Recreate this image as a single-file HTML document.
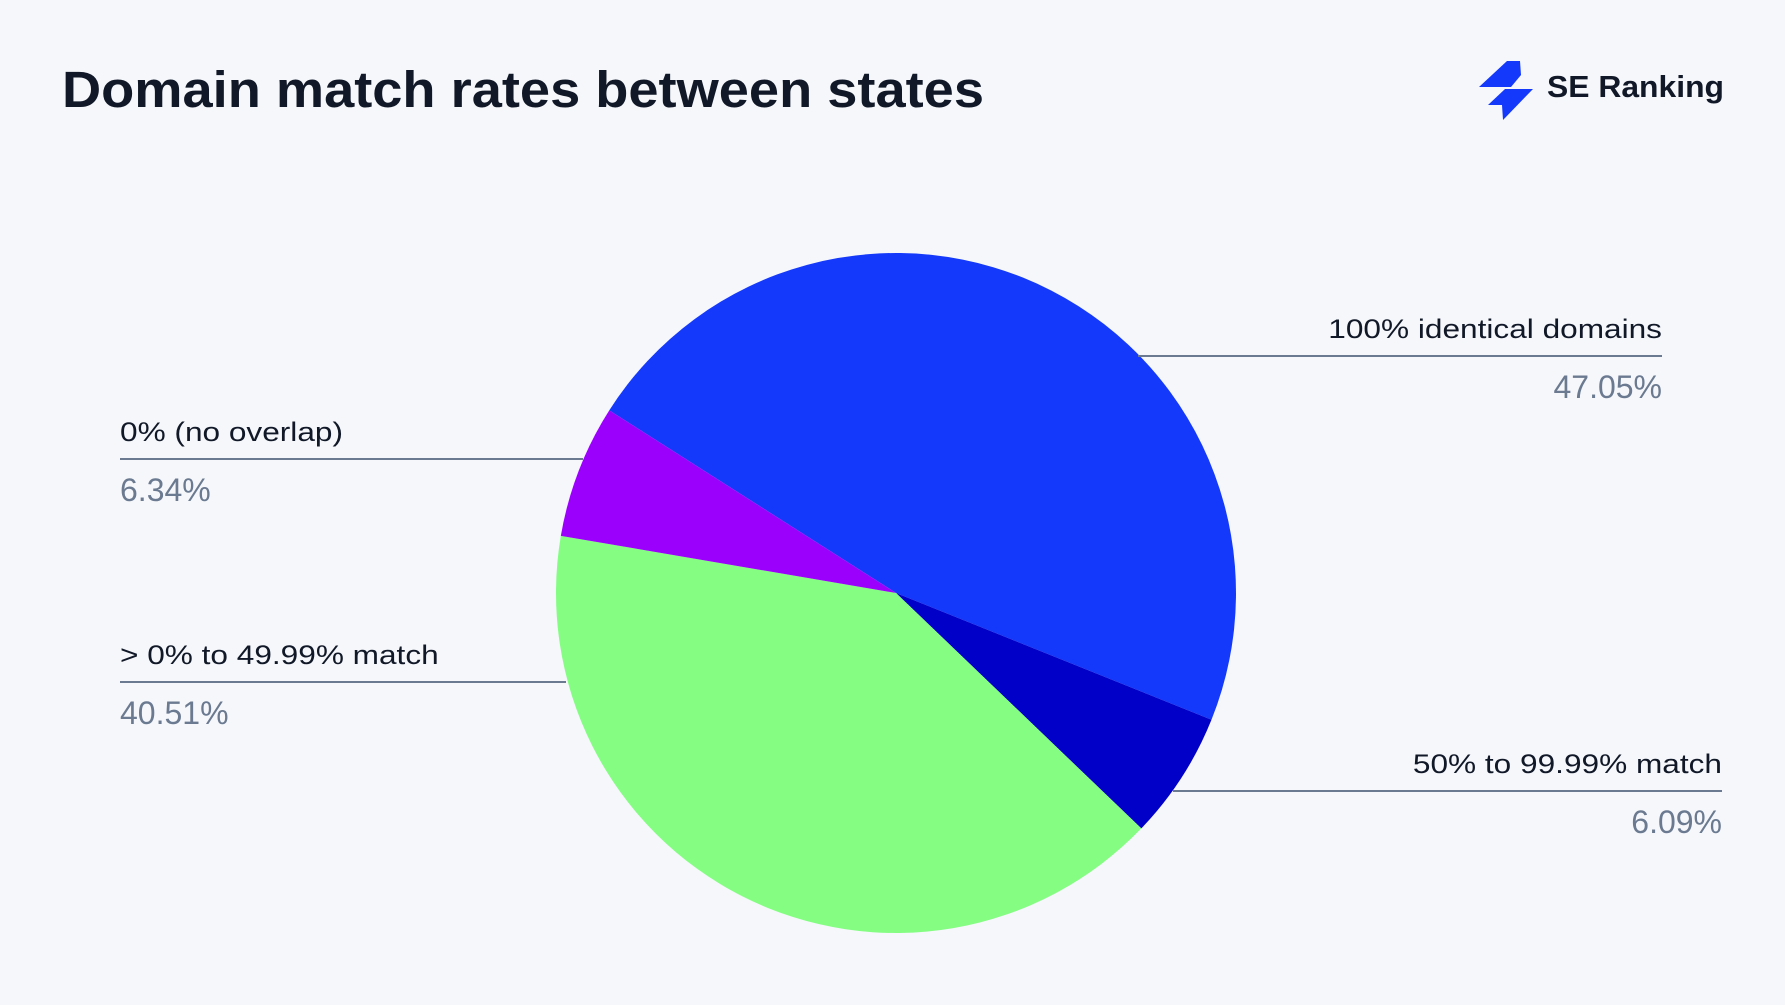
<!DOCTYPE html>
<html><head><meta charset="utf-8"><style>
body{margin:0;background:#f5f7fb;font-family:"Liberation Sans",sans-serif;}
#wrap{position:relative;width:1785px;height:1005px;overflow:hidden;background:#f5f7fb;}
</style></head><body>
<div id="wrap">
<svg id="svg" width="1785" height="1005">
<text x="62" y="107" font-size="51" font-weight="bold" fill="#111827" textLength="922" lengthAdjust="spacingAndGlyphs">Domain match rates between states</text>
<g>
<polygon points="1479,87 1507,61 1520,61 1521,75 1511,87" fill="#1439fa"/>
<polygon points="1505,89 1533,89 1503,120 1502,105 1488,105" fill="#1439fa"/>
<text x="1547" y="97" font-size="31" font-weight="bold" fill="#111827" textLength="177" lengthAdjust="spacingAndGlyphs">SE Ranking</text>
</g>
<g id="slices"></g>
<g id="labels"></g>
</svg>
</div>
<script>
const categories=["100% identical domains","50% to 99.99% match","> 0% to 49.99% match","0% (no overlap)"];
const values=[47.05,6.09,40.51,6.34];
const valueLabels=["47.05%","6.09%","40.51%","6.34%"];
const colors=["#1439fa","#0000c8","#85fd83","#9b00fc"];
const ns="http://www.w3.org/2000/svg";
const cx=896,cy=593,r=340,startDeg=-57.5;
const total=values.reduce((a,b)=>a+b,0);
function pt(deg,rad){const a=deg*Math.PI/180;return [cx+rad*Math.sin(a),cy-rad*Math.cos(a)];}
const g=document.getElementById('slices');
let ang=startDeg;
values.forEach((v,i)=>{
 const sweep=v/total*360;
 const p1=pt(ang,r),p2=pt(ang+sweep,r);
 const path=document.createElementNS(ns,'path');
 path.setAttribute('d',`M${cx},${cy} L${p1[0]},${p1[1]} A${r},${r} 0 ${sweep>180?1:0} 1 ${p2[0]},${p2[1]} Z`);
 path.setAttribute('fill',colors[i]);
 
 
 g.appendChild(path);
 ang+=sweep;
});
const layout=[
 {x1:1138,x2:1662,y:356,anchor:'end',tx:1662},
 {x1:1173,x2:1722,y:791,anchor:'end',tx:1722},
 {x1:120,x2:566,y:682,anchor:'start',tx:120},
 {x1:120,x2:583,y:459,anchor:'start',tx:120}
];
const lg=document.getElementById('labels');
categories.forEach((c,i)=>{
 const L=layout[i];
 const grp=document.createElementNS(ns,'g');
 
 
 const ln=document.createElementNS(ns,'line');
 ln.setAttribute('x1',L.x1);ln.setAttribute('x2',L.x2);ln.setAttribute('y1',L.y);ln.setAttribute('y2',L.y);
 ln.setAttribute('stroke','#6b7a90');ln.setAttribute('stroke-width','2');
 
 
 grp.appendChild(ln);
 const t=document.createElementNS(ns,'text');
 t.setAttribute('x',L.tx);t.setAttribute('y',L.y-18);t.setAttribute('text-anchor',L.anchor);
 t.setAttribute('font-size','27');t.setAttribute('fill','#111827');
 t.textContent=c;
 
 
 grp.appendChild(t);
 const p=document.createElementNS(ns,'text');
 p.setAttribute('x',L.tx);p.setAttribute('y',L.y+42);p.setAttribute('text-anchor',L.anchor);
 p.setAttribute('font-size','32');p.setAttribute('fill','#6b7a90');
 p.textContent=valueLabels[i];
 
 
 grp.appendChild(p);
 lg.appendChild(grp);
 const w=t.getComputedTextLength();
 t.setAttribute('textLength',(w*1.17).toFixed(1));
 t.setAttribute('lengthAdjust','spacingAndGlyphs');
});
</script>
</body></html>
